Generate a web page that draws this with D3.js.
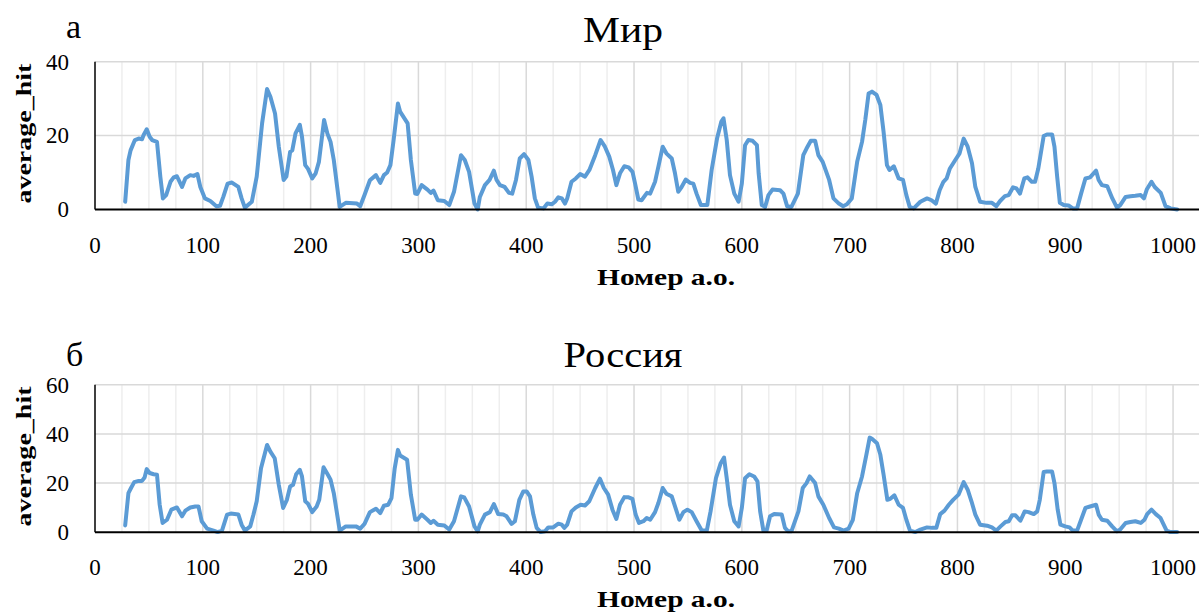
<!DOCTYPE html>
<html>
<head>
<meta charset="utf-8">
<script src="https://cdn.jsdelivr.net/npm/d3@7"></script>
<style>
  html, body { margin: 0; padding: 0; background: #fff; }
  svg { display: block; }
  text { font-family: "Liberation Serif", "Times New Roman", serif; fill: #000; }
</style>
</head>
<body>
<svg id="chart" width="1199" height="615"></svg>
<script>
// Residue numbers (x) and average hit counts (y), world-wide sample
const worldPos = [28,31,33,37,40.5,43.6,45,48,50.7,53,57.5,60.6,63,66,70,73,76,80.7,83.8,88.4,91.5,95,97.7,102,107,112.6,116,119,123,127,133,136,139,145.5,150,155,159.6,162.7,167,170.5,175,177.5,181,183,186,190,192,195,197.6,201.5,204.7,207.7,212.5,215.5,218.5,221.5,227,232.6,243,246,250,255,260.6,264.6,268,271,274,277,281,283,290,293,297,299,303,308.4,311.5,314,318,324,328.6,333,339.5,343,347,352,355,357,361.7,366,370,372.5,375.6,380,384,387,390.5,394,398,402,405,408,411,416,419.6,423.6,426.7,429.8,433,436,438,442,446,450,454.5,458.6,464,469,473,477,480.5,483.6,487,491,495,498.6,501,504,507,512,515,519.5,522.6,526.6,530,535,538,541,544,548,552,555,558,562,568,572,577,581,583,586,589,593,597,600,603,606,610,614,615.6,618.5,621.6,624.7,628.4,635.5,638.6,642,646,652,657,660,664,668,671,675,681,685,690,694,697.5,702,707,711.5,714.5,717.6,720.7,725,728.5,731.5,734.6,737,741,745.5,749.5,752.6,755.7,759.4,765.6,771.8,776,780,783.5,787,790,793,798,802,805.8,809.5,813.5,816.6,821,827,832,836,839.6,844,847.6,851.6,854.7,858,862,865,869,872,875,880,883,887.8,890,892.5,895,898.6,903,907,911,914.7,918.7,923,928.6,931,934,939,943.7,948,951,956,960.6,965,970,973,975.6,980,983,988.6,993,997.7,1003.8];
const worldHit = [2.1,13.4,16,18.8,19.2,19,20.1,21.7,19.7,18.8,18.3,8.9,3,3.9,7.5,8.7,9,6.1,8.4,9.3,9.1,9.6,6.1,3,2.3,0.9,1,3.4,7,7.3,6.1,3,0.5,2.1,8.9,23.3,32.6,30.5,26,17,8,8.9,15.6,16,20.6,22.9,19.7,12,11,8.4,9.8,12.9,24.2,20.6,18.3,13.4,0.7,1.8,1.6,0.9,3.9,7.9,9.3,7.2,9.3,10,12,18.8,28.7,26.5,23.3,13.4,4.3,4.2,6.6,5.4,4.5,5.1,2.5,2.3,1.2,4.8,14.7,13.4,10.2,1.6,0,3.4,6.6,8,10.5,8,6.6,6.1,4.5,4.3,8,13.8,15,13.4,8.9,3,0.5,0.3,1.6,1.4,2.1,3.3,3,1.6,3,7.5,8.4,9.6,8.9,10.7,14.7,18.8,17,14.3,10.7,6.6,9.8,11.7,11.4,10.2,7,2.7,2.5,4.5,4.3,7.5,11.6,17,15.2,13.8,9.8,4.8,6,8.1,7.2,7,4.3,1.2,1.2,10.7,19.2,23.8,24.7,18.8,9.3,4.3,2.1,7,17.4,18.8,18.6,17.4,9.8,1.2,0.7,3.9,5.4,5.2,4.3,0.9,0.7,4.3,14.7,16.5,18.6,18.6,14.7,12.9,8,3,1.6,0.9,1.4,3,12.9,18.3,24.2,31.4,31.9,31,28.3,21,12,10.7,11.7,8.4,8,3.9,0.7,0.3,2.1,3,2.5,1.6,5.2,7.5,8.4,11.1,13.4,15.2,19.2,17,12.5,6.1,2.1,1.8,1.8,0.9,2.3,3.6,3.9,6,5.7,4.3,8.4,8.7,7.5,7.5,11.1,19.9,20.3,20.3,17,8.9,1.8,1.2,1.1,0.3,0.3,4.3,8.4,8.7,10.5,8,6.6,6.3,3,0.5,1.2,3.4,3.6,3.7,3.9,3,5.4,7.5,6.1,4.5,0.9,0.3,0];

// Residue numbers (x) and average hit counts (y), Russian sample
const russiaPos = [28,31,33.4,36.4,40.5,43.6,46,48,50.7,54.4,57.5,60,62.7,66.8,70.8,76,80.7,83.8,88.4,93,96,99,104,110,113.8,117.8,122.5,126,133,136,139,144,147,150,154,159.6,162.7,166.7,170.5,174.5,178,181,183.7,186.6,190,192,195,197.6,201.5,205.6,208,212,216,218.5,221.5,227,232.6,242,246,250,255,260.6,264.6,268,272,275,278,281,283,289.5,293,297,299,303,308.4,311.5,314,318,324,328.6,333,339.5,342.5,347,352,355,357,361.7,366.3,370,374,378.7,381.8,386.4,389.5,393.6,397.3,400.4,403.5,406.6,409.7,413.4,417.4,420.5,425,429.8,433,435.3,438,442,446,450.5,454.5,458.5,464,468.4,472,476,480,483.6,487,491,495,498.5,501.5,504.6,508.7,511.8,515,519.5,522.6,526.6,530,535,539,542,545.8,549.5,553.5,558,562.8,567.5,571,576,580.4,583.5,586,589,593,597,600,603,607,611.4,614.5,617,620,623,626.2,630,637,640,643,646,652.5,656.5,660,663,668,671,675.6,681,685.5,690,694.4,699,703,707,711.5,715.5,718.6,720.7,725.4,728.5,731.5,735,737.7,741.5,745.5,749.5,752.6,756,761,765.6,771.8,776.4,780.4,784,788,792,796,801,805.8,809.5,813,816.6,821,827.5,832,836,840,844.5,847.6,850.7,853.8,858.4,862.4,866,870.8,874,876.4,880,883,887.8,890,893,895.5,900,904,907,911,914.7,918.7,923,928.6,931,934,939,943.5,948,951,956,960.5,965,970,973.5,976,980,984,988.4,994,997.6,1003.8];
const russiaHit = [2.8,15.9,18,20.4,20.9,20.9,22.3,25.7,24.1,23.6,23.4,11.2,3.8,5.1,9.2,10.1,6.5,8.8,10.1,10.5,10.5,4.5,1.5,0.7,0.1,0.7,7.2,7.6,7.2,3.1,0.7,2.4,7.2,12.6,26,35.5,32.8,30.1,19.3,9.9,13.2,18.6,19.3,23.6,25.4,22.7,12.6,11.6,8.2,10.5,13.2,26.4,23.4,21.4,15.9,0.7,2.4,2.4,1.5,3.4,8.2,9.6,7.8,10.8,11.2,13.9,26,33.5,31.2,29.5,15.3,5.1,5.1,7.2,5.1,3.8,4.7,3.1,2.8,1.1,4.5,14.6,14.2,10.5,2.4,0.4,3.1,7.2,8.2,11.5,7.4,7.2,6.5,3.4,4.5,13.2,16.6,16.6,14.6,7.2,1.8,0.1,0.4,2,2,3.5,3.1,1.8,3.1,8.5,10.1,11.2,10.9,12.6,18,21.8,18,15.3,9.2,5.4,11.2,14.3,14.2,13.6,7.2,3.8,4.5,5.8,5.1,8.2,11.9,18,15.7,14.6,9.2,5.1,8.2,9.2,8.2,4.5,0.7,0.7,8.5,22,28.1,30.4,22,11.2,4.5,2.4,9.9,22,23.6,22.7,20.7,8.5,0.7,0.7,6.5,7.4,7.2,1.8,0.4,0.4,8.5,18,20,22.7,20,14.6,11.2,5.8,2,1.5,0.7,1.5,5.1,15.9,22.7,31.5,38.5,38,36.2,31.5,23.4,13.2,13.6,15,11.2,9.9,5.1,0.7,0.1,1.1,2,1.8,1.8,7.4,8.8,11.2,13.2,15.3,20.4,17.3,12.6,7.2,3.1,2.7,2,0.7,2.4,4.2,4.5,6.9,6.9,4.7,8.5,8.2,7.4,8.5,13.2,24.5,24.7,24.7,20,9.2,3.1,2.4,2,0.7,0.7,5.1,9.9,10.5,11.2,7.2,5.1,4.7,2.4,0.4,1.1,3.8,4.2,4.5,3.8,5.1,7.4,9.2,7.4,5.8,0.7,0.1,0.1];

// Axis ticks and labels
const xMax = 1025;
const xTicks = d3.range(0, 1001, 100);
const xGridMinor = d3.range(25, 1025, 25).filter(v => v % 100 !== 0);
const worldYTicks = [0, 20, 40];
const russiaYTicks = [0, 20, 40, 60];
const panelLetters = ["а", "б"];
const panelTitles = ["Мир", "Россия"];
const xTitle = "Номер а.о.";
const yTitle = "average_hit";

const svg = d3.select("#chart");
const lineColor = "#5B9BD5";

function drawPanel(opts) {
  const { top, bottom, pos, hit, yTicks, letter, title, layout } = opts;
  const x = d3.scaleLinear().domain([0, xMax]).range([95, 1200]);
  const y = d3.scaleLinear().domain([0, d3.max(yTicks)]).range([bottom, top]);
  const g = svg.append("g");

  // minor vertical grid (every 25)
  g.append("g").selectAll("line").data(xGridMinor).join("line")
    .attr("x1", d => x(d)).attr("x2", d => x(d))
    .attr("y1", y.range()[1]).attr("y2", y.range()[0])
    .attr("stroke", "#eeeeee").attr("stroke-width", 1.5);

  // major vertical grid (every 100)
  g.append("g").selectAll("line").data(xTicks.filter(d => d > 0)).join("line")
    .attr("x1", d => x(d)).attr("x2", d => x(d))
    .attr("y1", y.range()[1]).attr("y2", y.range()[0])
    .attr("stroke", "#d9d9d9").attr("stroke-width", 1.5);

  // horizontal grid
  g.append("g").selectAll("line").data(yTicks.filter(d => d > 0)).join("line")
    .attr("x1", x(0)).attr("x2", 1199)
    .attr("y1", d => y(d)).attr("y2", d => y(d))
    .attr("stroke", "#d9d9d9").attr("stroke-width", 1.5);

  // left axis line
  g.append("line")
    .attr("x1", x(0)).attr("x2", x(0))
    .attr("y1", y(d3.max(yTicks))).attr("y2", y(0))
    .attr("stroke", "#000").attr("stroke-width", 1.5);

  // y tick labels
  g.append("g").selectAll("text").data(yTicks).join("text")
    .attr("x", 69).attr("y", d => y(d))
    .attr("dy", "0.34em")
    .attr("text-anchor", "end")
    .attr("font-size", 23)
    .text(d => d);

  // x tick labels
  g.append("g").selectAll("text").data(xTicks).join("text")
    .attr("x", d => x(d)).attr("y", layout.xTickBase)
    .attr("text-anchor", "middle")
    .attr("font-size", 23)
    .text(d => d);

  // data line
  const pts = pos.map((p, i) => [p, hit[i]]);
  g.append("path")
    .datum(pts)
    .attr("fill", "none")
    .attr("stroke", lineColor)
    .attr("stroke-width", 4)
    .attr("stroke-linejoin", "round")
    .attr("stroke-linecap", "round")
    .attr("d", d3.line().x(d => x(d[0])).y(d => y(d[1])));

  // x axis line at zero
  g.append("line")
    .attr("x1", x(0)).attr("x2", 1199)
    .attr("y1", y(0)).attr("y2", y(0))
    .attr("stroke", "#000").attr("stroke-width", 2);

  // panel letter
  g.append("text")
    .attr("x", 66).attr("y", layout.letterBase)
    .attr("font-size", 34)
    .text(letter);

  // title
  g.append("text")
    .attr("x", 623).attr("y", layout.titleBase)
    .attr("text-anchor", "middle")
    .attr("font-size", 36)
    .attr("textLength", layout.titleLen)
    .attr("lengthAdjust", "spacingAndGlyphs")
    .text(title);

  // x axis title
  g.append("text")
    .attr("x", 666).attr("y", layout.xTitleBase)
    .attr("text-anchor", "middle")
    .attr("font-size", 23)
    .attr("font-weight", "bold")
    .attr("textLength", 138)
    .attr("lengthAdjust", "spacingAndGlyphs")
    .text(xTitle);

  // y axis title
  const cy = (y.range()[0] + y.range()[1]) / 2 - 2;
  g.append("text")
    .attr("transform", `translate(31,${cy}) rotate(-90)`)
    .attr("text-anchor", "middle")
    .attr("font-size", 22)
    .attr("font-weight", "bold")
    .attr("textLength", 140)
    .attr("lengthAdjust", "spacingAndGlyphs")
    .text(yTitle);
}

drawPanel({
  top: 61.7, bottom: 209.5, pos: worldPos, hit: worldHit, yTicks: worldYTicks,
  letter: panelLetters[0], title: panelTitles[0],
  layout: { xTickBase: 253, xTitleBase: 285, letterBase: 38, titleBase: 42, titleLen: 80 }
});

drawPanel({
  top: 384.7, bottom: 532.3, pos: russiaPos, hit: russiaHit, yTicks: russiaYTicks,
  letter: panelLetters[1], title: panelTitles[1],
  layout: { xTickBase: 575, xTitleBase: 607, letterBase: 366, titleBase: 367, titleLen: 119 }
});
</script>
</body>
</html>
